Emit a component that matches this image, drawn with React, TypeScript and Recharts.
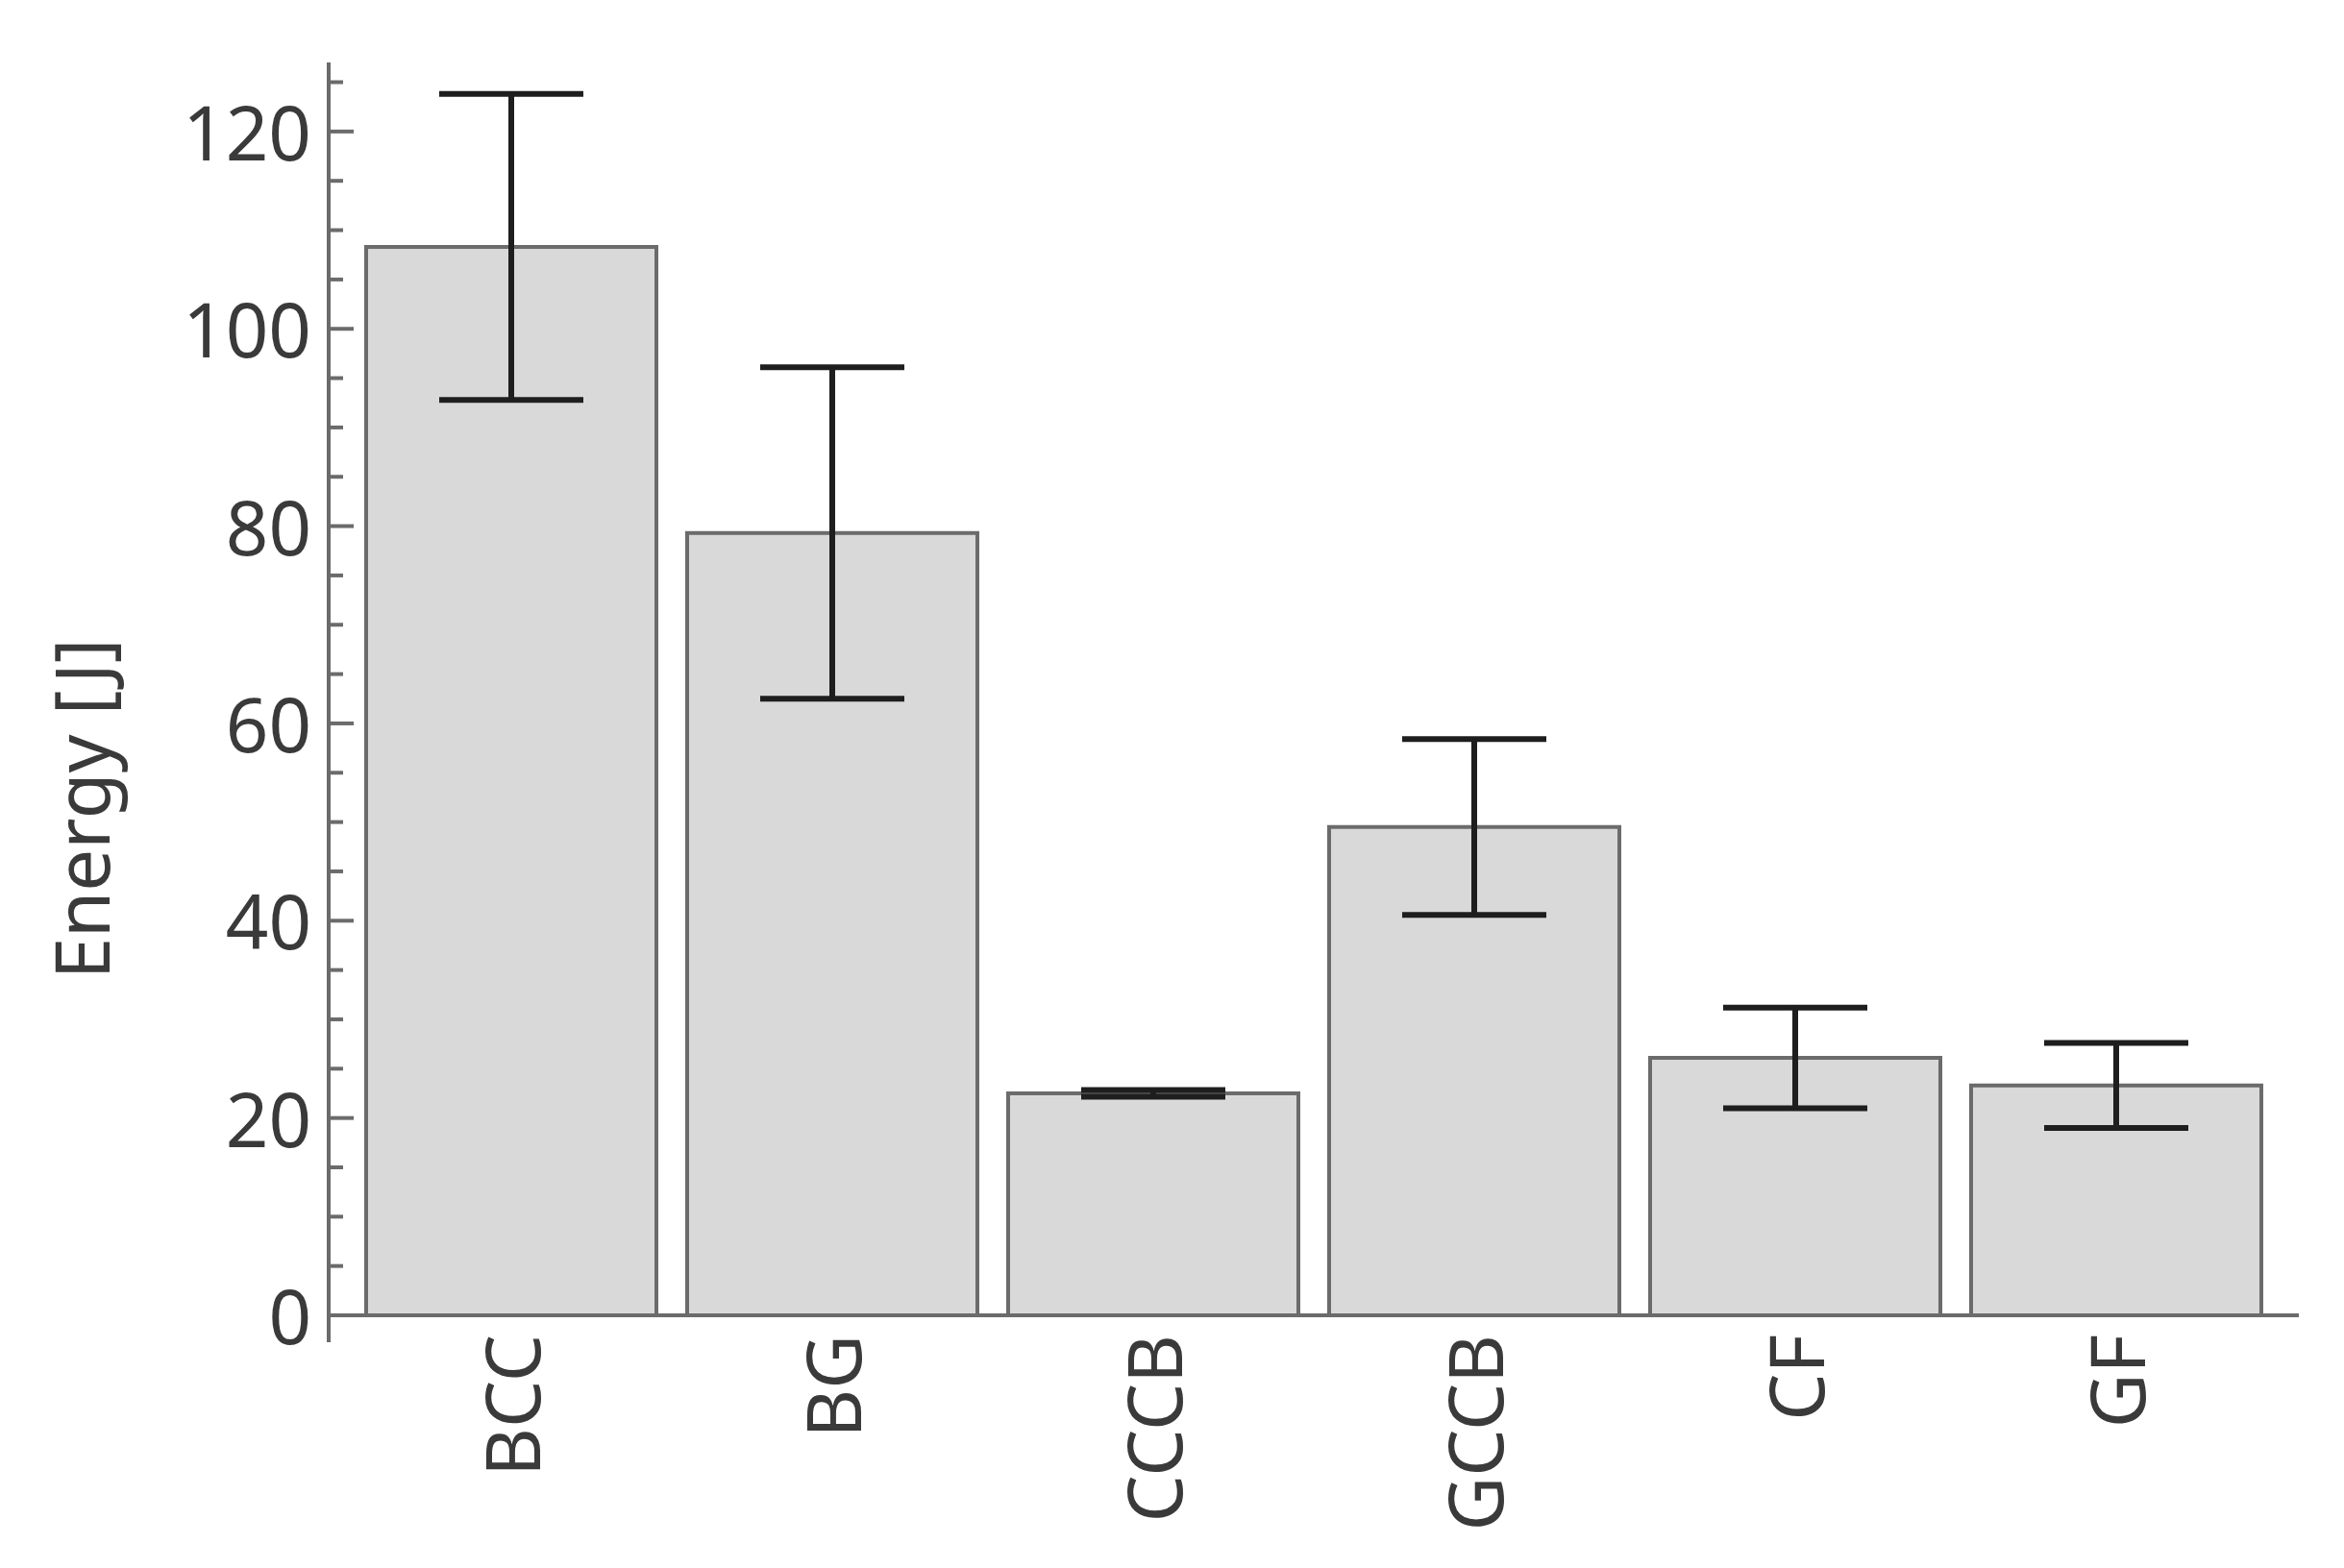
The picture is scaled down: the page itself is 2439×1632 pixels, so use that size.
import React from 'react';
import { BarChart, Bar, XAxis, YAxis, ErrorBar, Label } from 'recharts';

const categories = ['BCC', 'BG', 'CCCB', 'GCCB', 'CF', 'GF'];
const energy = [108.3, 79.3, 22.5, 49.5, 26.1, 23.3];
const energyError = [15.5, 16.8, 0.35, 8.9, 5.1, 4.3];
const yTicks = [0, 5, 10, 15, 20, 25, 30, 35, 40, 45, 50, 55, 60, 65, 70, 75, 80, 85, 90, 95, 100, 105, 110, 115, 120, 125];
const yMajorStep = 20;

const data = categories.map((name, i) => ({ name, energy: energy[i], err: energyError[i] }));

const AXIS = '#6b6b6b';
const TEXT = '#3a3a3a';
const FONT = '"Noto Sans", "Open Sans", sans-serif';
const FS = 78;

const YTick = (props: any) => {
  const { x, y, payload } = props;
  const major = payload.value % yMajorStep === 0;
  return (
    <g>
      <line x1={x} y1={y} x2={x + (major ? 26 : 15)} y2={y} stroke={AXIS} strokeWidth={4} />
      {payload.value === 0 && <line x1={x} y1={y} x2={x} y2={y + 28} stroke={AXIS} strokeWidth={4} />}
      {major && (
        <text x={x - 18} y={y} textAnchor="end" dominantBaseline="central" fill={TEXT} fontSize={FS} fontFamily={FONT}>
          {payload.value}
        </text>
      )}
    </g>
  );
};

const XTick = (props: any) => {
  const { x, y, payload } = props;
  const ty = y + 20;
  return (
    <text
      x={x}
      y={ty}
      transform={`rotate(-90, ${x}, ${ty})`}
      textAnchor="end"
      dominantBaseline="central"
      fill={TEXT}
      fontSize={FS}
      fontFamily={FONT}
    >
      {payload.value}
    </text>
  );
};

const BarShape = (props: any) => {
  const { x, y, width, height } = props;
  const base = y + height;
  return (
    <g>
      <rect x={x} y={y} width={width} height={height} fill="#d9d9d9" stroke={AXIS} strokeWidth={4} />
      <line x1={x} y1={base} x2={x} y2={base + 28} stroke={AXIS} strokeWidth={4} />
      <line x1={x + width} y1={base} x2={x + width} y2={base + 28} stroke={AXIS} strokeWidth={4} />
    </g>
  );
};

export default function App() {
  return (
    <div style={{ position: 'absolute', left: 0, top: 0, background: '#fff' }}>
      <BarChart
        width={2439}
        height={1632}
        data={data}
        margin={{ top: 65, right: 47, left: 92, bottom: 63 }}
        barSize={302}
      >
        <XAxis
          dataKey="name"
          height={200}
          padding={{ left: 23, right: 23 }}
          axisLine={{ stroke: AXIS, strokeWidth: 4 }}
          tickLine={false}
          tickSize={0}
          tickMargin={0}
          tick={<XTick />}
          interval={0}
        />
        <YAxis
          width={250}
          domain={[0, 127]}
          ticks={yTicks}
          interval={0}
          allowDataOverflow
          axisLine={{ stroke: AXIS, strokeWidth: 4 }}
          tickLine={false}
          tickSize={0}
          tickMargin={0}
          tick={<YTick />}
        >
          <Label
            content={() => (
              <text
                x={84}
                y={842}
                transform="rotate(-90, 84, 842)"
                textAnchor="middle"
                dominantBaseline="central"
                fill={TEXT}
                fontSize={FS}
                fontFamily={FONT}
              >
                Energy [J]
              </text>
            )}
          />
        </YAxis>
        <Bar dataKey="energy" shape={<BarShape />} isAnimationActive={false}>
          <ErrorBar dataKey="err" direction="y" width={75} strokeWidth={6} stroke="#1e1e1e" isAnimationActive={false} />
        </Bar>
      </BarChart>
    </div>
  );
}
